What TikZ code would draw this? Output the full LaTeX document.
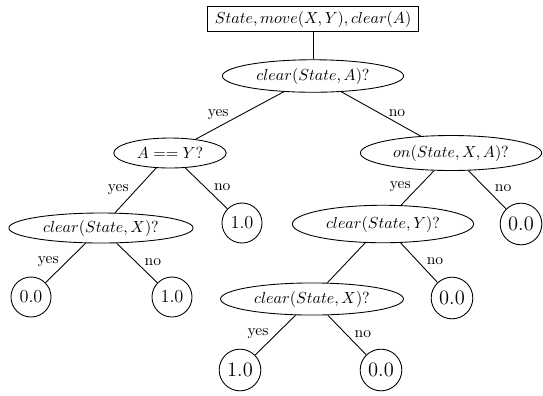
\documentclass[tikz,border=0pt]{standalone}
\usetikzlibrary{shapes.geometric}
\begin{document}
\begin{tikzpicture}[
  x=0.024cm,y=-0.024cm,
  every node/.style={font=\fontsize{10.6}{12.7}\selectfont},
  query/.style={draw,minimum width=5.06cm,minimum height=0.6cm,inner sep=2pt},
  test/.style={ellipse,draw,inner sep=0pt,minimum width=4.35cm,minimum height=0.78cm},
  leaf/.style={circle,draw,inner sep=0pt,minimum size=1cm,font=\fontsize{14}{16}\selectfont},
  smallleaf/.style={circle,draw,inner sep=0pt,minimum size=0.96cm,font=\fontsize{12.5}{14}\selectfont},
  yeslbl/.style={left,inner sep=1pt,xshift=-0.12cm,yshift=0.03cm},
  nolbl/.style={right,inner sep=1pt,xshift=0.14cm,yshift=0.03cm},
  every path/.style={line width=0.6pt}
]
  \useasboundingbox (0,0) rectangle (543,395);

  % nodes
  \node[query] (goal) at (313,19) {$State, move(X,Y), clear(A)$};
  \node[test] (clearA) at (313,76) {$clear(State,A)?$};
  \node[test,minimum width=2.7cm,minimum height=0.72cm] (eqAY) at (170,153) {$A == Y?$};
  \node[test,minimum height=0.84cm] (onXA) at (451,153) {$on(State,X,A)?$};
  \node[test,minimum width=4.42cm,minimum height=0.72cm] (clearX) at (101,228) {$clear(State,X)?$};
  \node[smallleaf] (eqNo) at (242,223) {1.0};
  \node[test,minimum height=0.9cm] (clearY) at (383,224) {$clear(State,Y)?$};
  \node[leaf] (onNo) at (521,224) {0.0};
  \node[smallleaf] (xYes) at (31,297) {0.0};
  \node[smallleaf] (xNo) at (172,297) {1.0};
  \node[test,minimum width=4.39cm,minimum height=0.77cm] (clearX2) at (312,299) {$clear(State,X)?$};
  \node[leaf] (yNo) at (452,298) {0.0};
  \node[leaf] (x2Yes) at (240,370) {1.0};
  \node[leaf] (x2No) at (381,370) {0.0};

  % branches
  \draw (goal) -- (clearA);
  \draw (clearA) -- node[yeslbl,xshift=-0.1cm]{yes} (eqAY);
  \draw (clearA) -- node[nolbl]{no} (onXA);
  \draw (eqAY) -- node[yeslbl]{yes} (clearX);
  \draw (eqAY) -- node[nolbl]{no} (eqNo);
  \draw (onXA) -- node[yeslbl]{yes} (clearY);
  \draw (onXA) -- node[nolbl]{no} (onNo);
  \draw (clearX) -- node[yeslbl]{yes} (xYes);
  \draw (clearX) -- node[nolbl]{no} (xNo);
  \draw (clearY) -- (clearX2);
  \draw (clearY) -- node[nolbl]{no} (yNo);
  \draw (clearX2) -- node[yeslbl]{yes} (x2Yes);
  \draw (clearX2) -- node[nolbl]{no} (x2No);
\end{tikzpicture}
\end{document}
